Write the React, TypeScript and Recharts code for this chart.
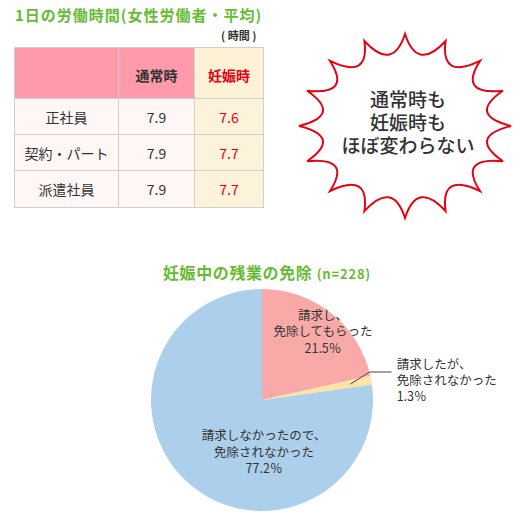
import React from "react";
import { PieChart, Pie, Cell } from "recharts";

// table: average working hours per day
const workTypes = ["正社員", "契約・パート", "派遣社員"];
const normalHours = [7.9, 7.9, 7.9];
const pregnantHours = [7.6, 7.7, 7.7];
const columnHeads = ["通常時", "妊娠時"];

// pie: overtime exemption during pregnancy (n=228)
const exemptNames = [
  "請求し、免除してもらった",
  "請求したが、免除されなかった",
  "請求しなかったので、免除されなかった",
];
const exemptLines = [
  ["請求し、", "免除してもらった"],
  ["請求したが、", "免除されなかった"],
  ["請求しなかったので、", "免除されなかった"],
];
const exemptValues = [21.5, 1.3, 77.2];

const SLICE_COLORS = ["#f9aaa8", "#fde4a3", "#acd0ec"];
const GREEN = "#66bb33";
const RED = "#e60012";
const TEXT = "#333";
const FONT = "'Noto Sans CJK JP', 'Noto Sans', sans-serif";
const RADIAN = Math.PI / 180;

const pieData = exemptNames.map((name, i) => ({
  name,
  value: exemptValues[i],
  lines: exemptLines[i],
}));

function burstPath(cx: number, cy: number, rx: number, ry: number, n: number, inner: number) {
  let d = "";
  for (let i = 0; i < n; i++) {
    const a = -Math.PI / 2 + (i * 2 * Math.PI) / n;
    const am = a + Math.PI / n;
    const a2 = a + (2 * Math.PI) / n;
    const x = cx + rx * Math.cos(a);
    const y = cy + ry * Math.sin(a);
    if (i === 0) d += `M${x},${y}`;
    const qx = cx + rx * inner * Math.cos(am);
    const qy = cy + ry * inner * Math.sin(am);
    d += ` Q${qx},${qy} ${cx + rx * Math.cos(a2)},${cy + ry * Math.sin(a2)}`;
  }
  return d + "Z";
}

const renderLabel = (props: any) => {
  const { cx, cy, midAngle, outerRadius, index, payload, value } = props;
  const lines: string[] = payload.lines ?? payload.payload?.lines;
  const pct = `${value.toFixed(1)}％`;
  const all = [...lines, pct];
  if (index === 1) {
    const r = outerRadius * 0.81;
    const sx = cx + r * Math.cos(-midAngle * RADIAN);
    const sy = cy + r * Math.sin(-midAngle * RADIAN);
    const ex = cx + outerRadius * 0.97;
    const ey = cy - 28;
    return (
      <g>
        <polyline
          points={`${sx},${sy} ${ex},${ey} ${ex + 22},${ey}`}
          fill="none"
          stroke="#444"
          strokeWidth={1}
        />
        {all.map((t, k) => (
          <text
            key={k}
            x={ex + 27}
            y={ey - 9 + k * 16}
            fill={TEXT}
            fontSize={12.5}
            fontFamily={FONT}
            dominantBaseline="central"
          >
            {t}
          </text>
        ))}
      </g>
    );
  }
  let x: number;
  let y: number;
  if (index === 0) {
    const r = outerRadius * 0.82;
    x = cx + r * Math.cos(-midAngle * RADIAN) + 4;
    y = cy + r * Math.sin(-midAngle * RADIAN) + 2;
  } else {
    x = cx + 2;
    y = cy + 51;
  }
  return (
    <g>
      {all.map((t, k) => (
        <text
          key={k}
          x={x}
          y={y + (k - 1) * 16.5}
          fill={TEXT}
          fontSize={12.5}
          fontFamily={FONT}
          textAnchor="middle"
          dominantBaseline="central"
        >
          {t}
        </text>
      ))}
    </g>
  );
};

const cellBorder = "1px solid #cfcfcf";

export default function App() {
  return (
    <div
      style={{
        position: "absolute",
        left: 0,
        top: 0,
        width: 522,
        height: 518,
        background: "#fff",
        fontFamily: FONT,
        color: TEXT,
        overflow: "hidden",
      }}
    >
      {/* title of the table */}
      <div
        style={{
          position: "absolute",
          left: 15,
          top: 5,
          fontSize: 15,
          fontWeight: 700,
          color: GREEN,
          whiteSpace: "nowrap",
          lineHeight: "20px",
          letterSpacing: 1,
        }}
      >
        1日の労働時間(女性労働者・平均)
      </div>
      <div
        style={{
          position: "absolute",
          left: 221,
          top: 28,
          fontSize: 11,
          fontWeight: 700,
          color: TEXT,
          whiteSpace: "nowrap",
          lineHeight: "15px",
        }}
      >
        ( 時間 )
      </div>

      <table
        style={{
          position: "absolute",
          left: 14,
          top: 47,
          width: 249,
          borderCollapse: "collapse",
          tableLayout: "fixed",
          fontSize: 14,
          border: "1px solid #c8c8c8",
        }}
      >
        <colgroup>
          <col style={{ width: 104 }} />
          <col style={{ width: 76 }} />
          <col style={{ width: 69 }} />
        </colgroup>
        <tbody>
          <tr style={{ height: 51 }}>
            <td style={{ background: "#fe9aaa", border: cellBorder }} />
            <td
              style={{
                background: "#fe9aaa",
                border: cellBorder,
                textAlign: "center",
                fontWeight: 700,
                paddingTop: 4,
              }}
            >
              {columnHeads[0]}
            </td>
            <td
              style={{
                background: "#fdf2d6",
                border: cellBorder,
                textAlign: "center",
                fontWeight: 700,
                color: RED,
                paddingTop: 4,
              }}
            >
              {columnHeads[1]}
            </td>
          </tr>
          {workTypes.map((w, i) => (
            <tr key={w} style={{ height: i === 2 ? 37 : 36 }}>
              <td style={{ background: "#fff6f6", border: cellBorder, textAlign: "center" }}>{w}</td>
              <td style={{ background: "#fff6f6", border: cellBorder, textAlign: "center" }}>
                {normalHours[i].toFixed(1)}
              </td>
              <td style={{ background: "#fdf3da", border: cellBorder, textAlign: "center", color: RED }}>
                {pregnantHours[i].toFixed(1)}
              </td>
            </tr>
          ))}
        </tbody>
      </table>

      {/* speech burst */}
      <svg style={{ position: "absolute", left: 0, top: 0 }} width={522} height={240}>
        <path
          d={burstPath(405, 126, 106, 92, 16, 0.6)}
          fill="#fff"
          stroke={RED}
          strokeWidth={2}
          strokeLinejoin="miter"
        />
        {["通常時も", "妊娠時も", "ほぼ変わらない"].map((t, k) => (
          <text
            key={k}
            x={408}
            y={98 + k * 23}
            textAnchor="middle"
            dominantBaseline="central"
            fontSize={19}
            fontWeight={500}
            fontFamily={FONT}
            fill={TEXT}
          >
            {t}
          </text>
        ))}
      </svg>

      {/* pie title */}
      <div
        style={{
          position: "absolute",
          left: 163,
          top: 262,
          fontSize: 16,
          fontWeight: 700,
          color: GREEN,
          whiteSpace: "nowrap",
          lineHeight: "20px",
          letterSpacing: 0.6,
        }}
      >
        妊娠中の残業の免除 <span style={{ fontSize: 13, letterSpacing: 0.8 }}>(n=228)</span>
      </div>

      <div style={{ position: "absolute", left: 0, top: 0 }}>
        <PieChart width={522} height={518} margin={{ top: 0, right: 0, bottom: 0, left: 0 }}>
          <Pie
            data={pieData}
            dataKey="value"
            nameKey="name"
            cx={262}
            cy={400}
            outerRadius={111}
            startAngle={90}
            endAngle={-270}
            stroke="none"
            label={renderLabel}
            labelLine={false}
            isAnimationActive={false}
          >
            {pieData.map((d, i) => (
              <Cell key={d.name} fill={SLICE_COLORS[i]} />
            ))}
          </Pie>
        </PieChart>
      </div>
    </div>
  );
}
